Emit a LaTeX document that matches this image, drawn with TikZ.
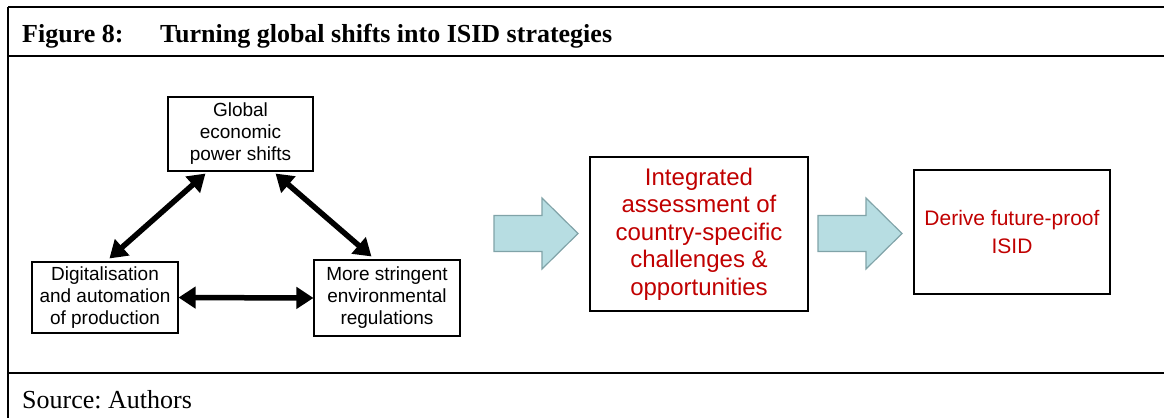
\documentclass[tikz,border=0pt]{standalone}
\usepackage{fontspec}
\setmainfont{Liberation Serif}
\setsansfont{Liberation Sans}
\usetikzlibrary{arrows.meta}

\definecolor{flowred}{RGB}{192,0,0}
\definecolor{flowfill}{RGB}{183,221,226}
\definecolor{flowedge}{RGB}{128,163,168}

\tikzset{
  frame/.style={black, line width=2.4pt},
  shiftbox/.style={draw, line width=1.1pt, align=center, inner sep=0pt,
    font=\sffamily\fontsize{19}{22}\selectfont},
  stagebox/.style={draw, line width=2pt, align=center, inner sep=0pt,
    text=flowred, font=\sffamily\fontsize{24}{27.6}\selectfont},
  link/.style={line width=5.5pt, {Triangle[length=17pt,width=21pt]}-{Triangle[length=17pt,width=21pt]}},
  flowarrow/.pic={
    \draw[fill=flowfill, draw=flowedge, line width=1.2pt]
      (0,-18) -- (48,-18) -- (48,-35.5) -- (84,0) -- (48,35.5) -- (48,18) -- (0,18) -- cycle;
  }
}

\begin{document}
\begin{tikzpicture}[x=1pt, y=-1pt]
  \frenchspacing
  \useasboundingbox (0,0) rectangle (1164,418);
  % frame
  \draw[frame] (8,7) -- (1164,7);
  \draw[frame] (8,56) -- (1164,56);
  \draw[frame] (8,373) -- (1164,373);
  \draw[frame] (8,7) -- (8,418);
  \node[anchor=base west, inner sep=0pt, font=\bfseries\fontsize{26}{30}\selectfont] (fig) at (22,42) {Figure 8:};
  \node[anchor=base west, inner sep=0pt, font=\bfseries\fontsize{26}{30}\selectfont] (title) at (160,42) {Turning global shifts into ISID strategies};
  \node[anchor=base west, inner sep=0pt, font=\fontsize{26}{30}\selectfont] (source) at (22,408) {Source: Authors};

  % triangle of global shifts
  \node[shiftbox, minimum width=145pt, minimum height=74pt] (glob) at (240.5,134) {Global\\economic\\power shifts};
  \node[shiftbox, minimum width=146pt, minimum height=71pt] (digi) at (105,297.5) {Digitalisation\\and automation\\of production};
  \node[shiftbox, minimum width=146pt, minimum height=76pt] (env) at (387,298) {More stringent\\environmental\\regulations};
  \draw[link] ([xshift=38pt,yshift=-2pt]glob.south west) -- ([xshift=78pt,yshift=3pt]digi.north west);
  \draw[link] ([xshift=-38pt,yshift=-2pt]glob.south east) -- ([xshift=58pt,yshift=3pt]env.north west);
  \draw[link] (digi.east) -- (env.west);

  % stages
  \pic at (494,233.5) {flowarrow};
  \node[stagebox, minimum width=218pt, minimum height=154pt] (assess) at (699,234) {Integrated\\assessment of\\country-specific\\challenges \&\\opportunities};
  \pic at (818,233.5) {flowarrow};
  \node[stagebox, minimum width=196pt, minimum height=124pt, font=\sffamily\fontsize{21}{28}\selectfont] (derive) at (1012,232) {Derive future-proof\\ISID};
\end{tikzpicture}
\end{document}
